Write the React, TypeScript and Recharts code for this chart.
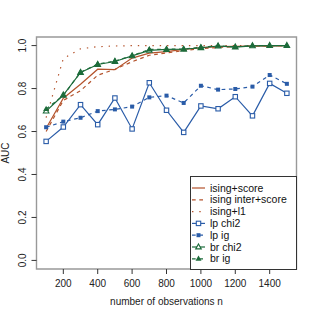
import React from 'react';
import { LineChart, Line, XAxis, YAxis, ReferenceArea, Legend } from 'recharts';

const nObs = [100, 200, 300, 400, 500, 600, 700, 800, 900, 1000, 1100, 1200, 1300, 1400, 1500];
const isingScore = [0.615, 0.755, 0.82, 0.89, 0.888, 0.942, 0.965, 0.972, 0.982, 0.99, 0.995, 0.997, 0.998, 0.999, 1.0];
const isingInterScore = [0.6, 0.745, 0.79, 0.862, 0.89, 0.925, 0.955, 0.966, 0.976, 0.986, 0.991, 0.995, 0.997, 0.998, 0.999];
const isingL1 = [0.665, 0.94, 0.985, 0.995, 0.998, 1.0, 1.0, 1.0, 1.0, 1.0, 1.0, 1.0, 1.0, 1.0, 1.0];
const lpChi2 = [0.554, 0.621, 0.725, 0.632, 0.756, 0.612, 0.827, 0.699, 0.596, 0.719, 0.706, 0.762, 0.673, 0.824, 0.778];
const lpIg = [0.62, 0.646, 0.664, 0.695, 0.703, 0.716, 0.759, 0.767, 0.733, 0.813, 0.795, 0.798, 0.809, 0.863, 0.822];
const brChi2 = [0.695, 0.77, 0.875, 0.912, 0.926, 0.952, 0.978, 0.982, 0.983, 0.99, 0.998, 0.993, 0.999, 1.0, 1.0];
const brIg = [0.705, 0.768, 0.876, 0.914, 0.928, 0.953, 0.982, 0.983, 0.984, 0.992, 0.999, 0.994, 1.0, 1.0, 1.0];

const xTicks = [200, 400, 600, 800, 1000, 1200, 1400];
const yTicks = [0, 0.2, 0.4, 0.6, 0.8, 1.0];

const BROWN = '#B4532C';
const BLUE = '#2A5CA8';
const GREEN = '#1C6B3A';
const FONT = '"Liberation Sans", Arial, Helvetica, sans-serif';

type Shape = 'none' | 'openSquare' | 'square' | 'openTriangle' | 'triangle';

const series: { key: string; name: string; color: string; dash?: string; shape: Shape; values: number[] }[] = [
  { key: 'isingScore', name: 'ising+score', color: BROWN, shape: 'none', values: isingScore },
  { key: 'isingInterScore', name: 'ising inter+score', color: BROWN, dash: '3.7 3.6', shape: 'none', values: isingInterScore },
  { key: 'isingL1', name: 'ising+l1', color: BROWN, dash: '1.4 5.9', shape: 'none', values: isingL1 },
  { key: 'lpChi2', name: 'lp chi2', color: BLUE, shape: 'openSquare', values: lpChi2 },
  { key: 'lpIg', name: 'lp ig', color: BLUE, dash: '3.7 3.6', shape: 'square', values: lpIg },
  { key: 'brChi2', name: 'br chi2', color: GREEN, shape: 'openTriangle', values: brChi2 },
  { key: 'brIg', name: 'br ig', color: GREEN, dash: '3.7 3.6', shape: 'triangle', values: brIg },
];

const data = nObs.map((n, i) => {
  const row: Record<string, number> = { n };
  series.forEach((s) => {
    row[s.key] = s.values[i];
  });
  return row;
});

function marker(shape: Shape, color: string, cx: number, cy: number, key?: string | number) {
  if (shape === 'openSquare') {
    return <rect key={key} x={cx - 2.2} y={cy - 2.2} width={4.4} height={4.4} fill="#fff" stroke={color} strokeWidth={1.1} />;
  }
  if (shape === 'square') {
    return <rect key={key} x={cx - 2} y={cy - 2} width={4} height={4} fill={color} stroke="none" />;
  }
  if (shape === 'openTriangle') {
    return (
      <polygon key={key} points={`${cx},${cy - 3.1} ${cx + 2.8},${cy + 1.9} ${cx - 2.8},${cy + 1.9}`} fill="#fff" stroke={color} strokeWidth={1.1} />
    );
  }
  if (shape === 'triangle') {
    return <polygon key={key} points={`${cx},${cy - 3.2} ${cx + 3},${cy + 2} ${cx - 3},${cy + 2}`} fill={color} stroke="none" />;
  }
  return <g key={key} />;
}

const XTick = (props: any) => {
  const { x, y, payload } = props;
  return (
    <text x={x} y={y} dy="0.72em" textAnchor="middle" fontSize={10} fontFamily={FONT} fill="#222">
      {payload.value}
    </text>
  );
};

const YTick = (props: any) => {
  const { x, y, payload } = props;
  return (
    <text x={x} y={y} transform={`rotate(-90 ${x} ${y})`} textAnchor="middle" fontSize={10} fontFamily={FONT} fill="#222">
      {Number(payload.value).toFixed(1)}
    </text>
  );
};

const LegendBox = () => {
  const rowH = 11.8;
  return (
    <svg width={107} height={94} style={{ display: 'block' }}>
      <rect x={0.5} y={0.5} width={106} height={93} fill="#fff" stroke="#333" strokeWidth={1} />
      {series.map((s, i) => {
        const cy = 12 + i * rowH;
        return (
          <g key={s.key}>
            <line x1={2} y1={cy} x2={15} y2={cy} stroke={s.color} strokeWidth={1.2} strokeDasharray={s.dash} />
            {marker(s.shape, s.color, 8.5, cy)}
            <text x={20} y={cy} dy="0.35em" fontSize={10.5} fontFamily={FONT} fill="#111">
              {s.name}
            </text>
          </g>
        );
      })}
    </svg>
  );
};

export default function App() {
  return (
    <div style={{ position: 'absolute', left: 0, top: 0, width: 315, height: 315, background: '#fff' }}>
      <LineChart width={315} height={315} data={data} margin={{ top: 37, right: 18.5, bottom: 16, left: 6.5 }}>
        <XAxis
          dataKey="n"
          type="number"
          domain={[44, 1556]}
          ticks={xTicks}
          interval={0}
          allowDataOverflow
          height={30}
          axisLine={false}
          tickSize={5}
          tickMargin={6}
          tickLine={{ stroke: '#333' }}
          tick={XTick}
          label={({ viewBox }: any) => (
            <text x={viewBox.x + viewBox.width / 2} y={viewBox.y + 35.7} textAnchor="middle" fontSize={10} fontFamily={FONT} fill="#222">
              number of observations n
            </text>
          )}
        />
        <YAxis
          type="number"
          domain={[-0.04, 1.04]}
          ticks={yTicks}
          interval={0}
          allowDataOverflow
          width={30}
          axisLine={false}
          tickSize={5}
          tickMargin={5}
          tickLine={{ stroke: '#333' }}
          tick={YTick}
          label={({ viewBox }: any) => (
            <text
              x={8.5}
              y={viewBox.y + viewBox.height / 2}
              transform={`rotate(-90 8.5 ${viewBox.y + viewBox.height / 2})`}
              textAnchor="middle"
              fontSize={10}
              fontFamily={FONT}
              fill="#222"
            >
              AUC
            </text>
          )}
        />
        <ReferenceArea x1={44} x2={1556} y1={-0.04} y2={1.04} fill="none" stroke="#999" strokeWidth={1.4} ifOverflow="visible" />
        {series.map((s) => (
          <Line
            key={s.key}
            type="linear"
            dataKey={s.key}
            name={s.name}
            stroke={s.color}
            strokeWidth={1.2}
            strokeDasharray={s.dash}
            isAnimationActive={false}
            activeDot={false}
            dot={(p: any) => marker(s.shape, s.color, p.cx, p.cy, `${s.key}-${p.index}`)}
          />
        ))}
        <Legend
          layout="vertical"
          align="center"
          verticalAlign="middle"
          content={() => <LegendBox />}
          wrapperStyle={{ position: 'absolute', left: 189.5, top: 175.5, width: 107, height: 94 }}
        />
      </LineChart>
    </div>
  );
}
